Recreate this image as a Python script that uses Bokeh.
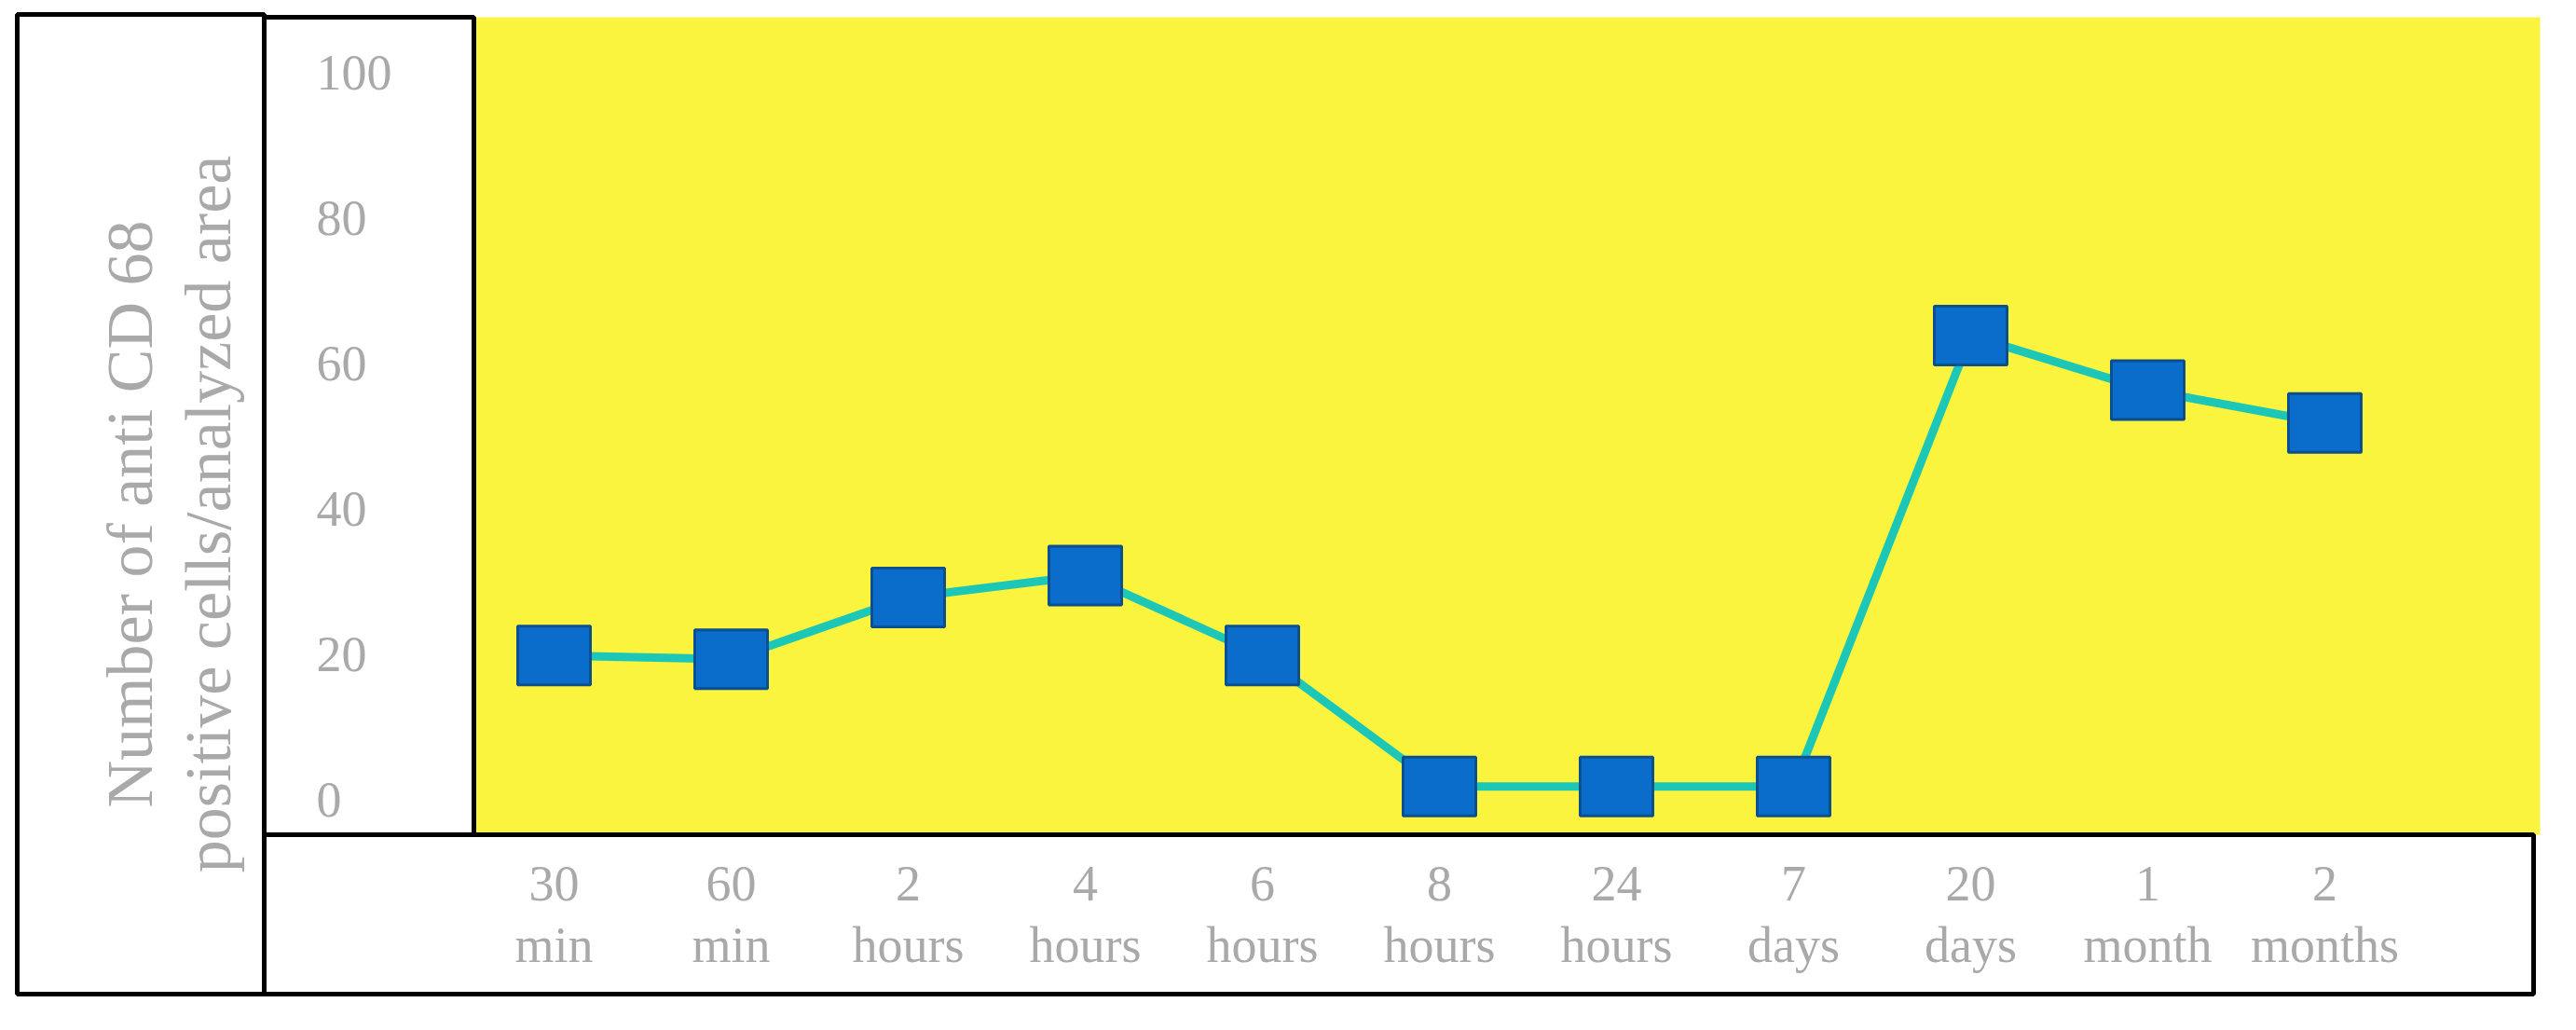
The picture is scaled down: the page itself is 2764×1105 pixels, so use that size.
from bokeh.plotting import figure
from bokeh.models import Range1d, BoxAnnotation, Label
from bokeh.embed import file_html
from bokeh.resources import INLINE

# ---- data ----
time_numbers = ["30", "60", "2", "4", "6", "8", "24", "7", "20", "1", "2"]
time_units = ["min", "min", "hours", "hours", "hours", "hours", "hours", "days", "days", "month", "months"]
cd68_counts = [19, 18.5, 27, 30, 19, 1, 1, 1, 63, 55.5, 51]
y_ticks = [0, 20, 40, 60, 80, 100]
y_title = "Number of anti CD 68\npositive cells/analyzed area"

positions = list(range(len(time_numbers)))
x_tick_text = [f"{n}\n{u}" for n, u in zip(time_numbers, time_units)]
y_tick_text = [str(t) for t in y_ticks]

# ---- layout geometry (canvas pixels) ----
W, H = 2745, 1085
FL, FR, FT, FB = 10, W - 10, 8, H - 10      # frame covers the whole drawing
X_ORIGIN, X_STEP = 594, 190                  # canvas x of category 0, px per category
Y_ZERO, Y_PX = 851, 7.8                      # canvas y of value 0, px per unit

def dx(cx):
    return (cx - X_ORIGIN) / X_STEP

def dy(cy):
    return (Y_ZERO - cy) / Y_PX

GRAY = "#A9A9A9"
FONT = "Liberation Serif"

p = figure(width=W, height=H, output_backend="svg", toolbar_location=None,
           x_range=Range1d(dx(FL), dx(FR)), y_range=Range1d(dy(FB), dy(FT)),
           min_border_left=FL, min_border_right=W - FR,
           min_border_top=FT, min_border_bottom=H - FB)
p.background_fill_color = "white"
p.border_fill_color = "white"
p.outline_line_color = None
p.grid.visible = False
p.xaxis.visible = False
p.yaxis.visible = False

# yellow plotting area (canvas px 508..2725 x 18..895)
p.add_layout(BoxAnnotation(left=dx(508), right=dx(2725), top=dy(18), bottom=dy(895),
                           fill_color="#FBF43F", fill_alpha=1, line_color=None,
                           level="underlay"))

# y tick labels (left aligned in their box)
p.text(x=dx(339), y=y_ticks, text=y_tick_text, text_align="left", text_baseline="middle",
       y_offset=6, text_font={"value": FONT}, text_font_size="54px", text_color=GRAY)

# x tick labels (two lines)
p.text(x=positions, y=dy(980), text=x_tick_text, text_align="center", text_baseline="middle",
       text_font={"value": FONT}, text_font_size="54px", text_color=GRAY,
       text_line_height=1.1)

# y title
p.add_layout(Label(x=dx(181), y=dy(551), text=y_title, angle=90, angle_units="deg",
                   text_align="center", text_baseline="middle",
                   text_font=FONT, text_font_size="70px", text_color=GRAY,
                   text_line_height=1.1))

# boxes (canvas px: left, right, top, bottom)
boxes = [(18, 283, 15, 1066), (283, 508, 18, 895), (283, 2718, 895, 1066)]
for l, r, t, b in boxes:
    p.add_layout(BoxAnnotation(left=dx(l), right=dx(r), top=dy(t), bottom=dy(b),
                               fill_color=None, fill_alpha=0, line_color="black",
                               line_alpha=1, line_width=5, level="overlay"))

# data
p.line(positions, cd68_counts, line_color="#1CC7B7", line_width=9)
p.rect(positions, cd68_counts, width=78, height=63, width_units="screen",
       height_units="screen", fill_color="#0A6CCB", line_color="#0B4F8F", line_width=3)

open("out.html", "w").write(file_html(p, INLINE))
